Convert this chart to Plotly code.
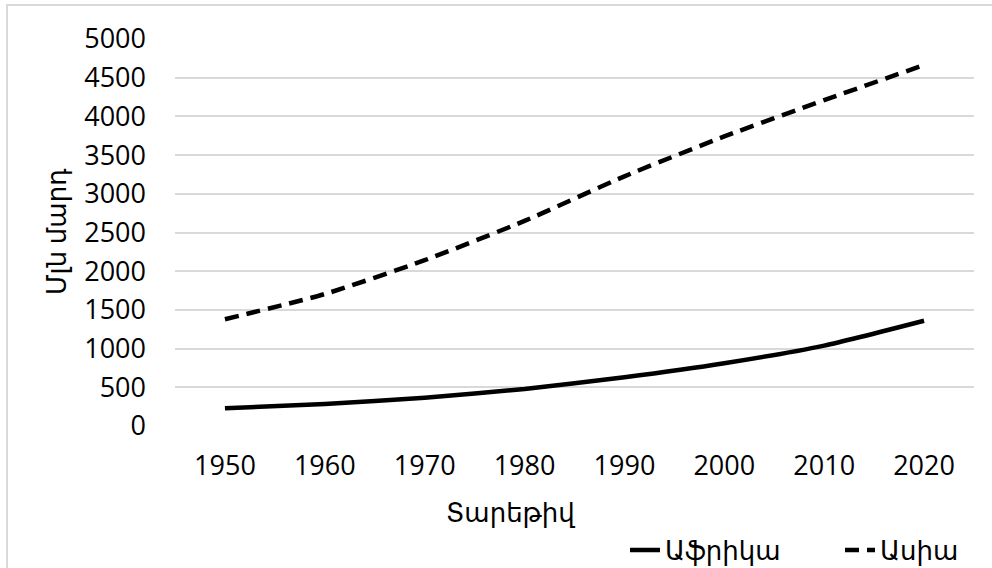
import plotly.graph_objects as go

years = ["1950", "1960", "1970", "1980", "1990", "2000", "2010", "2020"]
africa = [228, 285, 366, 478, 630, 811, 1039, 1360]
asia = [1380, 1705, 2142, 2650, 3226, 3741, 4210, 4664]
y_ticks = [0, 500, 1000, 1500, 2000, 2500, 3000, 3500, 4000, 4500, 5000]

FONT = "Open Sans, DejaVu Sans, sans-serif"

fig = go.Figure()
fig.add_trace(go.Scatter(x=years, y=africa, name="Աֆրիկա", mode="lines",
                         line=dict(color="black", width=4.5, shape="spline", smoothing=0.6)))
fig.add_trace(go.Scatter(x=years, y=asia, name="Ասիա", mode="lines",
                         line=dict(color="black", width=4.5, dash="14px,8px", shape="spline", smoothing=0.6)))

W, H = 992, 568
L, R, T, B = 175, 18, 39, 142
pw, ph = W - L - R, H - T - B

fig.update_layout(
    width=W, height=H,
    margin=dict(l=L, r=R, t=T, b=B, autoexpand=False),
    paper_bgcolor="white", plot_bgcolor="white",
    font=dict(family=FONT, size=26, color="black"),
    showlegend=True,
    legend=dict(orientation="h", xref="container", yref="container",
                x=625 / W, xanchor="left", y=1 - 550 / H, yanchor="middle",
                font=dict(size=26), bgcolor="rgba(0,0,0,0)", entrywidth=170,
                tracegroupgap=0),
    xaxis=dict(type="category", range=[-0.5, 7.5], showgrid=False, zeroline=False,
               showline=False, ticks="", ticklabelstandoff=21, tickfont=dict(size=27)),
    yaxis=dict(range=[0, 5000], tickvals=y_ticks, showgrid=True, gridcolor="#d9d9d9",
               gridwidth=1.5, zeroline=False, showline=False, ticks="",
               ticklabelstandoff=28, tickfont=dict(size=27)),
    shapes=[dict(type="rect", xref="paper", yref="paper",
                 x0=(7 - L) / pw, x1=1.2, y0=-0.6, y1=1 + (T - 5) / ph,
                 line=dict(color="#d9d9d9", width=2), fillcolor="rgba(0,0,0,0)", layer="below")],
    annotations=[
        dict(text="Տարեթիվ", xref="paper", yref="paper", x=(510 - L) / pw, y=-(512 - (T + ph)) / ph,
             xanchor="center", yanchor="middle", showarrow=False, font=dict(size=26)),
        dict(text="Մլն մարդ", xref="paper", yref="paper", x=(56 - L) / pw, y=(T + ph - 232) / ph,
             xanchor="center", yanchor="middle", showarrow=False, textangle=-90, font=dict(size=26)),
    ],
)

fig.write_html("out.html", config={"displayModeBar": False},
               post_script="document.body.style.margin='0';document.body.style.padding='0';")
